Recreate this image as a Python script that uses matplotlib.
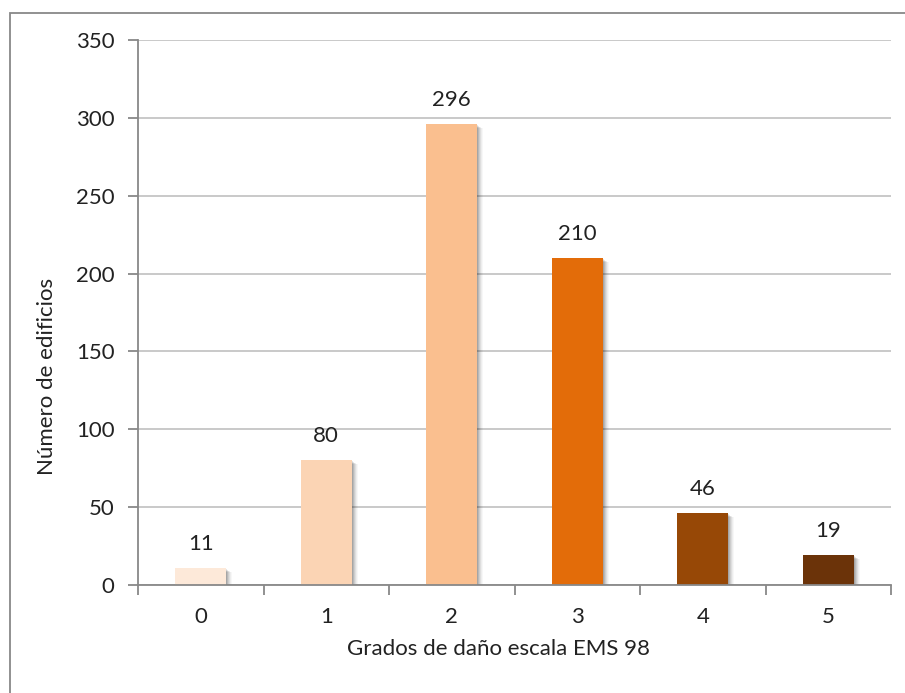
import matplotlib
matplotlib.use("Agg")
import matplotlib.pyplot as plt
import matplotlib.transforms as mtransforms
from matplotlib.patches import Rectangle

plt.rcParams['font.family'] = ['Lato', 'DejaVu Sans']

grados = ["0", "1", "2", "3", "4", "5"]
edificios = [11, 80, 296, 210, 46, 19]
colores = ["#FDE9D9", "#FBD4B4", "#FABF8F", "#E36C09", "#974806", "#6B3309"]

W, H = 905, 693
FS = 16
TXT = "#222222"
fig = plt.figure(figsize=(W / 100, H / 100), dpi=100)

# outer chart frame (only top and left edges fall inside the image)
fig.patches.append(Rectangle((10 / W, -1), 3, 1 + (H - 13) / H, transform=fig.transFigure,
                             fill=False, edgecolor="#888888", linewidth=1.3))

ax = fig.add_axes([138 / W, (H - 585) / H, (891 - 138) / W, (585 - 40) / H])
x = list(range(len(grados)))
ancho = 0.41

# soft drop shadow under each bar
for dx, dy, a in [(1, -1, 0.10), (2, -2, 0.09), (3, -3, 0.08), (4, -3, 0.06), (5, -4, 0.04), (6, -4, 0.03)]:
    off = mtransforms.ScaledTranslation(dx / 100, dy / 100, fig.dpi_scale_trans)
    sh = ax.bar(x, edificios, width=ancho, color="black", alpha=a, zorder=2, linewidth=0)
    for r in sh:
        r.set_transform(ax.transData + off)

ax.bar(x, edificios, width=ancho, color=colores, zorder=3, linewidth=0)

for xi, v in zip(x, edificios):
    ax.annotate(str(v), (xi, v), xytext=(0, 17.5), textcoords="offset points",
                ha="center", va="center", fontsize=FS, color=TXT, zorder=4)

ax.set_xlim(-0.5, 5.5)
ax.set_ylim(0, 350)
ax.set_yticks(range(0, 351, 50))
ax.set_xticks([i - 0.5 for i in range(7)])
ax.set_xticklabels([])
ax.set_xticks(x, minor=True)
ax.set_xticklabels(grados, minor=True)
ax.tick_params(axis="x", which="major", length=7, width=1.3, color="#888888", direction="out")
ax.tick_params(axis="x", which="minor", length=0, pad=16, labelsize=FS, labelcolor=TXT)
ax.tick_params(axis="y", length=7, width=1.3, color="#888888", pad=10, labelsize=FS, labelcolor=TXT)

ax.grid(axis="y", color="#C0C0C0", linewidth=1.2, zorder=0)
ax.set_axisbelow(True)
for s in ["top", "right"]:
    ax.spines[s].set_visible(False)
for s in ["left", "bottom"]:
    ax.spines[s].set_color("#888888")
    ax.spines[s].set_linewidth(1.3)
    ax.spines[s].set_zorder(5)

fig.text(47 / W, 1 - 376 / H, "Número de edificios", rotation=90, ha="center", va="center",
         fontsize=FS, color=TXT)
fig.text(498 / W, 1 - 649 / H, "Grados de daño escala EMS 98", ha="center", va="center",
         fontsize=FS, color=TXT)

fig.savefig("out.png", dpi=100)
